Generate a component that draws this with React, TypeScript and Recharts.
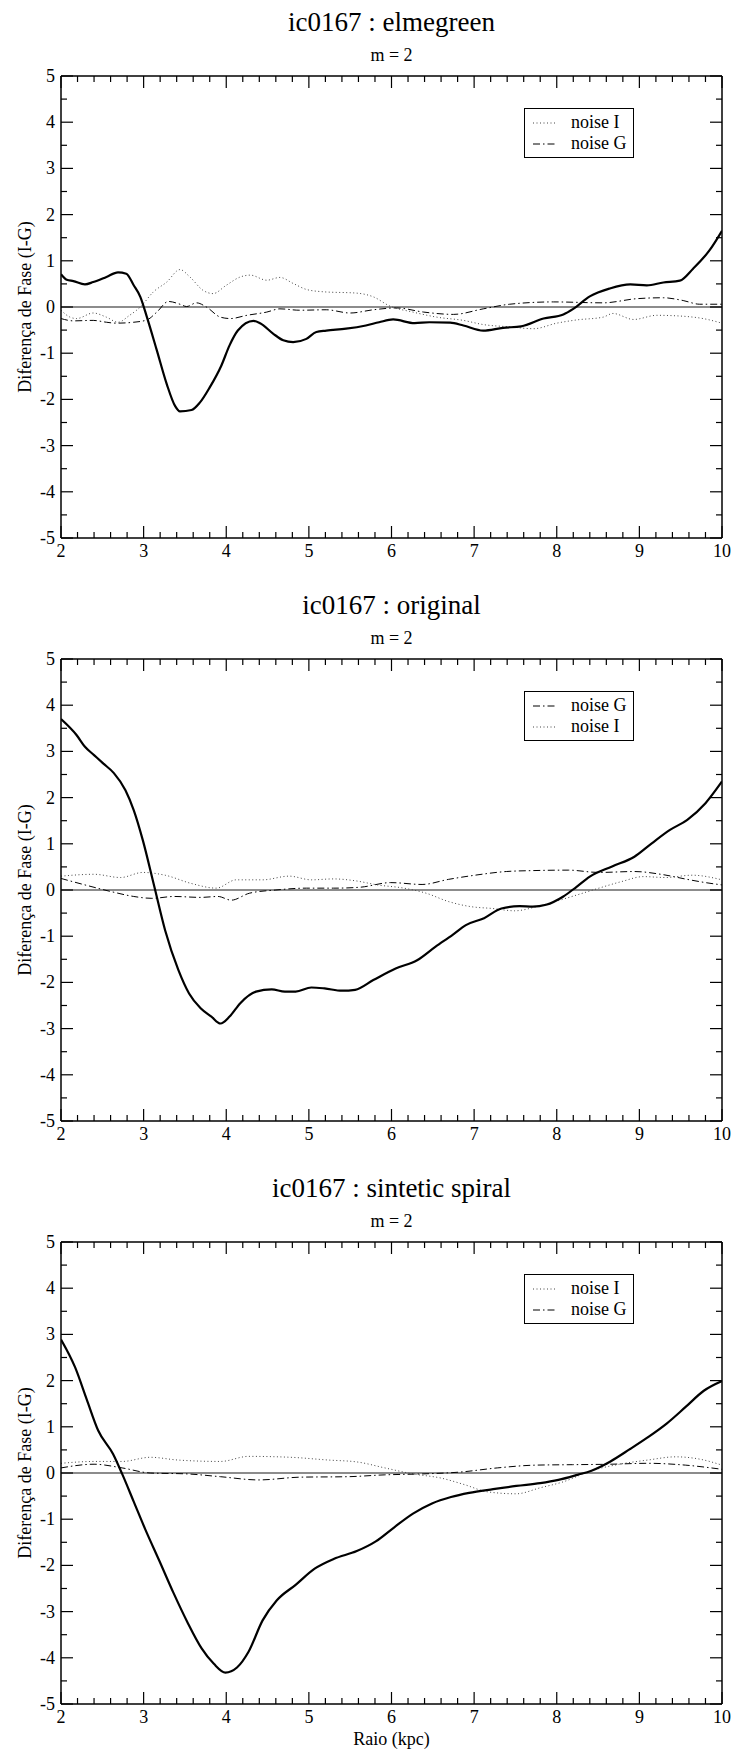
import { LineChart, Line, XAxis, YAxis, ReferenceLine, Legend } from "recharts";

const FONT = "'Liberation Serif', 'Times New Roman', serif";

// ic0167 : elmegreen
const elmPhaseR = [2.0, 2.07, 2.15, 2.29, 2.39, 2.55, 2.69, 2.79, 2.88, 2.96, 3.04, 3.16, 3.28, 3.38, 3.44, 3.58, 3.68, 3.8, 3.94, 4.04, 4.14, 4.33, 4.41, 4.57, 4.69, 4.81, 4.97, 5.09, 5.21, 5.45, 5.69, 5.85, 6.02, 6.28, 6.46, 6.71, 6.87, 7.11, 7.35, 7.57, 7.84, 8.08, 8.2, 8.4, 8.64, 8.89, 9.09, 9.29, 9.49, 9.65, 9.85, 10.0];
const elmPhase = [0.71, 0.59, 0.56, 0.49, 0.54, 0.65, 0.75, 0.72, 0.47, 0.22, -0.22, -0.94, -1.67, -2.14, -2.26, -2.23, -2.07, -1.74, -1.27, -0.83, -0.51, -0.3, -0.35, -0.58, -0.72, -0.76, -0.69, -0.54, -0.51, -0.47, -0.4, -0.33, -0.27, -0.35, -0.33, -0.34, -0.4, -0.51, -0.45, -0.42, -0.25, -0.16, -0.04, 0.23, 0.4, 0.49, 0.47, 0.53, 0.57, 0.83, 1.23, 1.65];
const elmNoiseIR = [2.0, 2.11, 2.19, 2.39, 2.55, 2.69, 2.83, 2.96, 3.12, 3.28, 3.44, 3.56, 3.72, 3.84, 4.0, 4.17, 4.29, 4.49, 4.65, 4.81, 4.97, 5.17, 5.58, 5.78, 5.98, 6.26, 6.55, 6.87, 7.11, 7.43, 7.72, 8.0, 8.24, 8.56, 8.68, 8.93, 9.21, 9.53, 9.77, 10.0];
const elmNoiseI = [-0.07, -0.22, -0.25, -0.13, -0.22, -0.33, -0.18, 0.0, 0.33, 0.54, 0.81, 0.65, 0.36, 0.29, 0.47, 0.65, 0.69, 0.58, 0.64, 0.51, 0.38, 0.33, 0.3, 0.22, 0.02, -0.11, -0.22, -0.29, -0.38, -0.43, -0.47, -0.35, -0.28, -0.22, -0.14, -0.27, -0.18, -0.2, -0.25, -0.35];
const elmNoiseGR = [2.0, 2.15, 2.39, 2.55, 2.67, 2.88, 3.04, 3.16, 3.3, 3.44, 3.52, 3.64, 3.76, 3.93, 4.05, 4.25, 4.49, 4.65, 4.89, 5.21, 5.5, 5.78, 6.06, 6.39, 6.75, 7.11, 7.43, 7.96, 8.56, 8.97, 9.29, 9.53, 9.73, 10.0];
const elmNoiseG = [-0.25, -0.3, -0.29, -0.33, -0.35, -0.33, -0.28, -0.11, 0.12, 0.06, 0.01, 0.09, 0.0, -0.22, -0.25, -0.18, -0.11, -0.04, -0.07, -0.06, -0.13, -0.06, -0.02, -0.11, -0.16, -0.04, 0.06, 0.11, 0.09, 0.18, 0.2, 0.14, 0.06, 0.06];

// ic0167 : original
const origPhaseR = [2.0, 2.19, 2.29, 2.4, 2.51, 2.64, 2.78, 2.88, 2.99, 3.13, 3.26, 3.42, 3.55, 3.69, 3.82, 3.93, 4.04, 4.17, 4.36, 4.55, 4.71, 4.84, 5.03, 5.19, 5.4, 5.56, 5.78, 6.05, 6.31, 6.53, 6.74, 6.9, 7.12, 7.33, 7.55, 7.71, 7.87, 8.08, 8.24, 8.4, 8.67, 8.94, 9.15, 9.37, 9.58, 9.8, 10.0];
const origPhase = [3.7, 3.35, 3.1, 2.92, 2.74, 2.53, 2.16, 1.73, 1.08, 0.07, -0.87, -1.73, -2.24, -2.56, -2.74, -2.89, -2.74, -2.45, -2.2, -2.15, -2.2, -2.2, -2.11, -2.13, -2.18, -2.16, -1.95, -1.7, -1.52, -1.23, -0.97, -0.76, -0.61, -0.4, -0.35, -0.36, -0.32, -0.14, 0.07, 0.29, 0.51, 0.72, 1.01, 1.3, 1.52, 1.88, 2.35];
const origNoiseIR = [2.0, 2.4, 2.72, 2.99, 3.26, 3.58, 3.88, 4.12, 4.44, 4.76, 5.03, 5.3, 5.56, 5.83, 6.15, 6.42, 6.69, 6.96, 7.22, 7.49, 7.76, 7.98, 8.24, 8.51, 8.78, 9.05, 9.31, 9.64, 10.0];
const origNoiseI = [0.3, 0.34, 0.27, 0.38, 0.32, 0.14, 0.04, 0.22, 0.22, 0.3, 0.22, 0.24, 0.2, 0.11, 0.04, -0.07, -0.25, -0.36, -0.4, -0.45, -0.36, -0.25, -0.11, 0.04, 0.18, 0.29, 0.27, 0.32, 0.22];
const origNoiseGR = [2.0, 2.29, 2.62, 2.88, 3.1, 3.37, 3.69, 3.9, 4.06, 4.28, 4.6, 4.97, 5.3, 5.62, 5.99, 6.37, 6.69, 7.01, 7.39, 7.71, 8.14, 8.51, 8.94, 9.26, 9.58, 9.8, 10.0];
const origNoiseG = [0.25, 0.11, -0.04, -0.14, -0.18, -0.14, -0.16, -0.14, -0.22, -0.07, 0.0, 0.04, 0.04, 0.06, 0.16, 0.12, 0.23, 0.32, 0.4, 0.42, 0.43, 0.38, 0.4, 0.34, 0.23, 0.16, 0.11];

// ic0167 : sintetic spiral
const sinPhaseR = [2.0, 2.17, 2.31, 2.45, 2.63, 2.74, 2.88, 3.02, 3.19, 3.36, 3.53, 3.7, 3.85, 3.99, 4.13, 4.27, 4.44, 4.61, 4.84, 5.07, 5.3, 5.58, 5.81, 6.03, 6.26, 6.49, 6.72, 6.94, 7.23, 7.51, 7.8, 8.02, 8.25, 8.42, 8.65, 8.88, 9.1, 9.33, 9.56, 9.78, 10.0];
const sinPhase = [2.89, 2.29, 1.6, 0.92, 0.41, -0.02, -0.62, -1.22, -1.9, -2.59, -3.23, -3.79, -4.13, -4.32, -4.21, -3.87, -3.19, -2.76, -2.42, -2.07, -1.86, -1.69, -1.48, -1.18, -0.88, -0.66, -0.52, -0.43, -0.35, -0.28, -0.22, -0.15, -0.04, 0.05, 0.25, 0.51, 0.77, 1.07, 1.43, 1.78, 1.99];
const sinNoiseIR = [2.0, 2.4, 2.74, 3.08, 3.42, 3.93, 4.27, 4.78, 5.24, 5.58, 5.92, 6.26, 6.6, 6.88, 7.17, 7.51, 7.8, 8.08, 8.42, 8.76, 9.1, 9.44, 9.73, 10.0];
const sinNoiseI = [0.21, 0.25, 0.25, 0.34, 0.28, 0.25, 0.36, 0.34, 0.28, 0.24, 0.11, -0.02, -0.11, -0.25, -0.41, -0.45, -0.32, -0.19, 0.05, 0.19, 0.28, 0.35, 0.3, 0.17];
const sinNoiseGR = [2.0, 2.4, 2.74, 3.08, 3.53, 3.93, 4.39, 4.9, 5.47, 5.92, 6.37, 6.83, 7.28, 7.74, 8.19, 8.65, 9.1, 9.56, 10.0];
const sinNoiseG = [0.11, 0.19, 0.11, 0.0, -0.02, -0.08, -0.15, -0.09, -0.08, -0.04, -0.02, 0.02, 0.11, 0.17, 0.18, 0.19, 0.21, 0.17, 0.08];

const X_TICKS = Array.from({ length: 41 }, (_, i) => 2 + i * 0.2);
const Y_TICKS = Array.from({ length: 21 }, (_, i) => -5 + i * 0.5);

const toRows = (r: number[], v: number[]) =>
  r.slice(0, Math.min(r.length, v.length)).map((x, i) => ({ r: x, v: v[i] }));

const NOISE_STYLE: Record<string, { stroke: string; dash: string }> = {
  "noise I": { stroke: "#444", dash: "1 2.5" },
  "noise G": { stroke: "#000", dash: "7 3 1.5 3" },
};

const PANELS = [
  {
    title: "ic0167 : elmegreen",
    phase: toRows(elmPhaseR, elmPhase),
    noiseI: toRows(elmNoiseIR, elmNoiseI),
    noiseG: toRows(elmNoiseGR, elmNoiseG),
    order: ["noise I", "noise G"],
  },
  {
    title: "ic0167 : original",
    phase: toRows(origPhaseR, origPhase),
    noiseI: toRows(origNoiseIR, origNoiseI),
    noiseG: toRows(origNoiseGR, origNoiseG),
    order: ["noise G", "noise I"],
  },
  {
    title: "ic0167 : sintetic spiral",
    phase: toRows(sinPhaseR, sinPhase),
    noiseI: toRows(sinNoiseIR, sinNoiseI),
    noiseG: toRows(sinNoiseGR, sinNoiseG),
    order: ["noise I", "noise G"],
    xLabel: "Raio (kpc)",
  },
];

const isMajor = (v: number) => Math.abs(v - Math.round(v)) < 1e-6;

const textProps = { fontFamily: FONT, fill: "#000" };

// ticks point inward; labels only on bottom/left
function XTick({ x, y, payload, side }: any) {
  const major = isMajor(payload.value);
  const len = major ? 12 : 6;
  const dir = side === "bottom" ? -1 : 1;
  return (
    <g>
      <line x1={x} x2={x} y1={y} y2={y + dir * len} stroke="#000" strokeWidth={1.2} />
      {major && side === "bottom" && (
        <text x={x} y={y + 19} textAnchor="middle" fontSize={18} {...textProps}>
          {Math.round(payload.value)}
        </text>
      )}
    </g>
  );
}

function YTick({ x, y, payload, side }: any) {
  const major = isMajor(payload.value);
  const len = major ? 12 : 6;
  const dir = side === "left" ? 1 : -1;
  return (
    <g>
      <line x1={x} x2={x + dir * len} y1={y} y2={y} stroke="#000" strokeWidth={1.2} />
      {major && side === "left" && (
        <text x={x - 6} y={y + 6} textAnchor="end" fontSize={18} {...textProps}>
          {Math.round(payload.value)}
        </text>
      )}
    </g>
  );
}

function LegendBox({ payload, order }: any) {
  const items = [...(payload || [])]
    .filter((p: any) => NOISE_STYLE[p.value])
    .sort((a: any, b: any) => order.indexOf(a.value) - order.indexOf(b.value));
  return (
    <div
      style={{
        border: "1px solid #000",
        background: "#fff",
        padding: "3px 0",
        width: 110,
        boxSizing: "border-box",
        fontFamily: FONT,
        fontSize: 18,
        lineHeight: "21px",
        color: "#000",
      }}
    >
      {items.map((it: any) => {
        const st = NOISE_STYLE[it.value];
        return (
          <div key={it.value} style={{ display: "flex", alignItems: "center", height: 21 }}>
            <svg width={40} height={10} style={{ marginLeft: 6, flex: "none" }}>
              <line x1={2} x2={26} y1={5} y2={5} stroke={st.stroke} strokeWidth={1} strokeDasharray={st.dash} />
            </svg>
            <span>{it.value}</span>
          </div>
        );
      })}
    </div>
  );
}

function Panel({ panel }: any) {
  const axisLine = { stroke: "#000", strokeWidth: 1.5 };
  return (
    <LineChart width={735} height={584} margin={{ top: 75, right: 12, bottom: 45, left: 60 }}>
      <XAxis
        xAxisId="b"
        type="number"
        dataKey="r"
        domain={[2, 10]}
        allowDataOverflow
        ticks={X_TICKS}
        interval={0}
        height={1}
        tickSize={0}
        tickMargin={0}
        tickLine={false}
        axisLine={axisLine}
        tick={(p: any) => <XTick {...p} side="bottom" />}
        label={(p: any) =>
          panel.xLabel ? (
            <text
              x={p.viewBox.x + p.viewBox.width / 2}
              y={p.viewBox.y + 41}
              textAnchor="middle"
              fontSize={18}
              {...textProps}
            >
              {panel.xLabel}
            </text>
          ) : null
        }
      />
      <XAxis
        xAxisId="t"
        orientation="top"
        type="number"
        dataKey="r"
        domain={[2, 10]}
        allowDataOverflow
        ticks={X_TICKS}
        interval={0}
        height={1}
        tickSize={0}
        tickMargin={0}
        tickLine={false}
        axisLine={axisLine}
        tick={(p: any) => <XTick {...p} side="top" />}
        label={(p: any) => (
          <g>
            <text
              x={p.viewBox.x + p.viewBox.width / 2}
              y={p.viewBox.y - 44}
              textAnchor="middle"
              fontSize={27}
              {...textProps}
            >
              {panel.title}
            </text>
            <text
              x={p.viewBox.x + p.viewBox.width / 2}
              y={p.viewBox.y - 14}
              textAnchor="middle"
              fontSize={18}
              {...textProps}
            >
              m = 2
            </text>
          </g>
        )}
      />
      <YAxis
        yAxisId="l"
        type="number"
        domain={[-5, 5]}
        allowDataOverflow
        ticks={Y_TICKS}
        interval={0}
        width={1}
        tickSize={0}
        tickMargin={0}
        tickLine={false}
        axisLine={axisLine}
        tick={(p: any) => <YTick {...p} side="left" />}
        label={(p: any) => {
          const cx = p.viewBox.x - 29;
          const cy = p.viewBox.y + p.viewBox.height / 2;
          return (
            <text
              x={cx}
              y={cy}
              transform={`rotate(-90 ${cx} ${cy})`}
              textAnchor="middle"
              fontSize={18}
              {...textProps}
            >
              Diferença de Fase (I-G)
            </text>
          );
        }}
      />
      <YAxis
        yAxisId="rt"
        orientation="right"
        type="number"
        domain={[-5, 5]}
        allowDataOverflow
        ticks={Y_TICKS}
        interval={0}
        width={1}
        tickSize={0}
        tickMargin={0}
        tickLine={false}
        axisLine={axisLine}
        tick={(p: any) => <YTick {...p} side="right" />}
      />
      <ReferenceLine xAxisId="b" yAxisId="l" y={0} stroke="#666" strokeWidth={1.6} />
      {panel.order.map((name: string) => (
        <Line
          key={name}
          xAxisId="b"
          yAxisId="l"
          name={name}
          data={name === "noise I" ? panel.noiseI : panel.noiseG}
          dataKey="v"
          type="monotone"
          stroke={NOISE_STYLE[name].stroke}
          strokeWidth={1}
          strokeDasharray={NOISE_STYLE[name].dash}
          dot={false}
          activeDot={false}
          isAnimationActive={false}
        />
      ))}
      <Line
        xAxisId="b"
        yAxisId="l"
        name="phase"
        legendType="none"
        data={panel.phase}
        dataKey="v"
        type="monotone"
        stroke="#000"
        strokeWidth={2.2}
        dot={false}
        activeDot={false}
        isAnimationActive={false}
      />
      <Legend
        layout="vertical"
        align="center"
        verticalAlign="middle"
        wrapperStyle={{ left: 524, top: 108, width: 110, height: "auto" }}
        content={(p: any) => <LegendBox payload={p.payload} order={panel.order} />}
      />
    </LineChart>
  );
}

export default function App() {
  return (
    <div
      style={{
        position: "absolute",
        left: 0,
        top: 0,
        width: 735,
        height: 1750,
        background: "#fff",
        overflow: "hidden",
      }}
    >
      {PANELS.map((panel, i) => (
        <div key={panel.title} style={{ position: "absolute", left: 0, top: i * 583 }}>
          <Panel panel={panel} />
        </div>
      ))}
    </div>
  );
}
